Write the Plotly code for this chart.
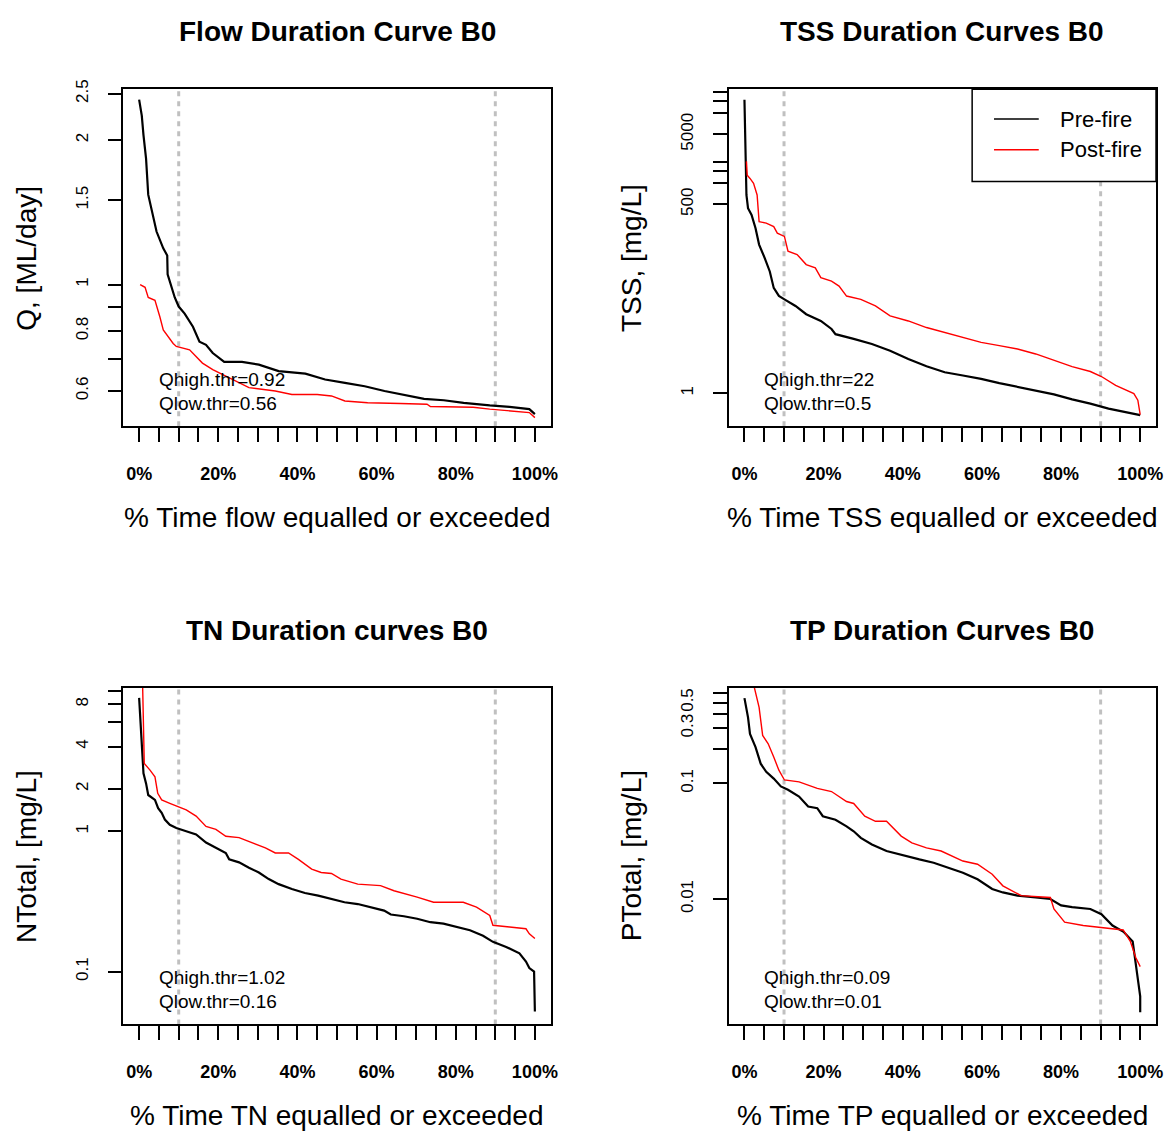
import plotly.graph_objects as go

# ---------------- data ----------------
flow_pre_pct = [0, 0.67, 1.1, 1.75, 2.3, 3.2, 4.4, 6.1, 7.1, 7.2, 8.2, 9.0, 10.0, 11.5, 13.6, 15.25,
                16.9, 18.6, 21.5, 26, 30.25, 35.25, 42, 47, 52, 57, 62, 67, 72, 77, 82, 88.6, 93.6, 98.6, 100]
flow_pre = [2.43, 2.25, 2.05, 1.83, 1.54, 1.42, 1.29, 1.19, 1.15, 1.05, 0.987, 0.94, 0.90, 0.87, 0.817, 0.76,
            0.749, 0.72, 0.69, 0.69, 0.681, 0.66, 0.652, 0.634, 0.624, 0.614, 0.60, 0.588, 0.578, 0.574, 0.567,
            0.56, 0.556, 0.55, 0.537]
flow_post_pct = [0.25, 1.5, 2.3, 4, 5.25, 6.1, 8.6, 9.4, 12.75, 14.4, 16, 18.6, 23.6, 27.75, 34.4, 38.6, 45,
                 48.6, 52, 57.75, 66, 72.75, 73.6, 84.4, 88.6, 93.6, 98.6, 100]
flow_post = [1.0, 0.987, 0.94, 0.927, 0.856, 0.804, 0.754, 0.743, 0.731, 0.708, 0.686, 0.665, 0.634, 0.61,
             0.60, 0.59, 0.59, 0.586, 0.572, 0.567, 0.565, 0.563, 0.557, 0.555, 0.55, 0.545, 0.541, 0.528]

tss_pre_pct = [0, 0.2, 0.5, 0.9, 1.8, 2.8, 3.7, 5.1, 6.4, 7.4, 8.7, 10.1, 12.9, 15.6, 19.3, 22, 23, 27.6, 32.2,
               36.8, 41.4, 46, 50.6, 55.2, 59.8, 64.4, 69, 73.6, 78.2, 82.8, 87.4, 92, 96.6, 100]
tss_pre = [15600, 2790, 680, 440, 353, 228, 133, 86, 55, 32, 24.6, 22, 17.7, 13.5, 10.8, 8.3, 7.0, 6.0, 5.06,
           4.07, 3.1, 2.44, 2.0, 1.8, 1.61, 1.40, 1.23, 1.10, 0.968, 0.82, 0.714, 0.606, 0.532, 0.488]
tss_post_pct = [0.5, 0.7, 1.4, 2.3, 3.2, 3.7, 5.5, 7.4, 8.3, 10.1, 11, 13.3, 15.6, 17.9, 19.3, 22, 23.9, 25.8,
                29.4, 33.1, 36.8, 41.4, 46, 50.6, 55.2, 59.8, 64.4, 69, 73.6, 78.2, 82.8, 87.4, 90.2, 93.8,
                98.4, 99.4, 100]
tss_post = [2050, 1300, 1170, 1000, 680, 283, 270, 240, 194, 174, 107, 96, 69, 62, 45, 40, 34, 24.5, 22, 17.7,
            12.8, 10.8, 8.7, 7.4, 6.4, 5.35, 4.8, 4.3, 3.65, 2.94, 2.41, 2.05, 1.74, 1.30, 0.99, 0.80, 0.498]

tn_pre_pct = [0, 0.25, 0.5, 0.7, 0.9, 1.1, 1.75, 2.3, 4, 4.8, 5.7, 6.5, 7.75, 9.4, 11.9, 14.4, 16.9, 19.4,
              21.9, 22.75, 25.25, 27.75, 30.25, 32.75, 35.25, 38.6, 41.9, 45.25, 48.6, 51.9, 55.25, 58.6,
              61.9, 63.6, 66.9, 70.25, 73.6, 76.9, 80.25, 83.6, 86.9, 89.4, 92.75, 96.1, 97.75, 98.6, 99.8, 100]
tn_pre = [8.9, 6.5, 5.1, 3.67, 2.88, 2.58, 2.19, 1.81, 1.67, 1.46, 1.35, 1.21, 1.11, 1.055, 1.0, 0.947, 0.83,
          0.76, 0.70, 0.63, 0.60, 0.55, 0.508, 0.456, 0.42, 0.388, 0.363, 0.348, 0.33, 0.312, 0.303, 0.288,
          0.272, 0.255, 0.248, 0.238, 0.225, 0.22, 0.208, 0.197, 0.18, 0.163, 0.150, 0.135, 0.118, 0.106,
          0.1, 0.052]
tn_post_pct = [0.8, 1.1, 1.3, 2.75, 4, 4.7, 5.7, 7.75, 9.8, 11.9, 14.4, 16.9, 19.4, 21.9, 25.25, 28.6, 31.9,
               34.4, 37.75, 40.25, 43.6, 46, 48.6, 51, 55.25, 61, 64.4, 70.25, 74.4, 81.9, 85.25, 88.6, 89.4,
               93.6, 97.75, 98.6, 100]
tn_post = [14, 5.8, 3.04, 2.72, 2.44, 1.86, 1.67, 1.58, 1.50, 1.42, 1.28, 1.08, 1.03, 0.92, 0.90, 0.83, 0.76,
           0.70, 0.70, 0.63, 0.537, 0.508, 0.50, 0.456, 0.42, 0.41, 0.377, 0.339, 0.312, 0.312, 0.288, 0.251,
           0.214, 0.208, 0.202, 0.186, 0.172]

tp_pre_pct = [0, 0.9, 1.4, 2.8, 4.1, 5.5, 7.4, 9.2, 11, 13.8, 16.1, 18.4, 19.8, 23, 25.8, 27.6, 29.4, 32.2,
              35.9, 40.5, 44.2, 47.8, 51.5, 55.2, 58.9, 62.6, 65.3, 69, 73.6, 77.3, 80, 82.8, 87.4, 90.2, 93,
              95.8, 98.1, 99.3, 100, 100]
tp_pre = [0.546, 0.372, 0.268, 0.206, 0.148, 0.126, 0.110, 0.094, 0.088, 0.077, 0.063, 0.061, 0.052, 0.0485,
          0.0425, 0.0385, 0.0338, 0.0296, 0.026, 0.0235, 0.022, 0.0206, 0.0187, 0.0169, 0.0148, 0.0122,
          0.0114, 0.0107, 0.0103, 0.01, 0.0088, 0.0085, 0.0082, 0.0074, 0.0059, 0.0052, 0.0043, 0.0021,
          0.00144, 0.00105]
tp_post_pct = [2.3, 3.7, 4.6, 6, 7.4, 8.7, 10.1, 13.8, 18.4, 22, 25.8, 27.6, 30.4, 33.1, 35.9, 39.6, 42.3, 46,
               49.7, 52.4, 55.2, 58.9, 62.6, 65.3, 69.9, 77.3, 78.2, 80.9, 85.6, 95.7, 97.5, 98.9, 100]
tp_post = [0.72, 0.454, 0.26, 0.22, 0.169, 0.13, 0.107, 0.103, 0.0906, 0.085, 0.0697, 0.067, 0.052, 0.047,
           0.047, 0.035, 0.0306, 0.0277, 0.026, 0.0235, 0.0213, 0.02, 0.0164, 0.013, 0.0107, 0.0103, 0.0082,
           0.0063, 0.0059, 0.0054, 0.0043, 0.0031, 0.0026]

titles = ["Flow Duration Curve B0", "TSS Duration Curves B0", "TN Duration curves B0", "TP Duration Curves B0"]
xlabels = ["% Time flow equalled or exceeded", "% Time TSS equalled or exceeded",
           "% Time TN equalled or exceeded", "% Time TP equalled or exceeded"]
ylabels = ["Q, [ML/day]", "TSS, [mg/L]", "NTotal, [mg/L]", "PTotal, [mg/L]"]
qhigh_labels = ["Qhigh.thr=0.92", "Qhigh.thr=22", "Qhigh.thr=1.02", "Qhigh.thr=0.09"]
qlow_labels = ["Qlow.thr=0.56", "Qlow.thr=0.5", "Qlow.thr=0.16", "Qlow.thr=0.01"]
series_names = ["Pre-fire", "Post-fire"]
threshold_pct = [10, 90]

x_tickvals = list(range(0, 101, 5))
x_ticktext = [f"{v}%" if v % 20 == 0 else "" for v in x_tickvals]

y_tickvals = [
    [0.6, 0.7, 0.8, 0.9, 1, 1.5, 2, 2.5],
    [1, 500, 1000, 1500, 2000, 5000, 10000, 15000, 20000],
    [0.1, 1, 2, 4, 6, 8, 10],
    [0.01, 0.1, 0.2, 0.3, 0.4, 0.5, 0.6],
]
y_ticktext = [
    ["0.6", "", "0.8", "", "1", "1.5", "2", "2.5"],
    ["1", "500", "", "", "", "5000", "", "", ""],
    ["0.1", "1", "2", "4", "", "8", ""],
    ["0.01", "0.1", "", "0.3", "", "0.5", ""],
]
y_ranges = [[-0.2955, 0.407], [-0.471, 4.34], [-1.376, 1.023], [-3.085, -0.171]]

pre_x = [flow_pre_pct, tss_pre_pct, tn_pre_pct, tp_pre_pct]
pre_y = [flow_pre, tss_pre, tn_pre, tp_pre]
post_x = [flow_post_pct, tss_post_pct, tn_post_pct, tp_post_pct]
post_y = [flow_post, tss_post, tn_post, tp_post]

# ---------------- layout helpers ----------------
# The page body has an 8px margin; the figure is sized so the page exactly fills the window.
PAGE_W, PAGE_H = 1176, 1142
OFF = 8
W, H = PAGE_W - 2 * OFF, PAGE_H - 2 * OFF
FONT = "Liberation Sans, Arial, sans-serif"
box_x = [(124, 554), (733, 1163), (124, 554), (733, 1163)]
box_y = [(80, 420), (80, 420), (683.5, 1023.5), (683.5, 1023.5)]


def px(x):
    return (x - OFF) / W


def py(y):
    return 1 - (y - OFF) / H


fig = go.Figure()
annotations = []
shapes = []

for i in range(4):
    n = i + 1
    xa = "x" if n == 1 else f"x{n}"
    ya = "y" if n == 1 else f"y{n}"
    fig.add_trace(go.Scatter(x=pre_x[i], y=pre_y[i], mode="lines", name=series_names[0],
                             line=dict(color="black", width=2.2), xaxis=xa, yaxis=ya, showlegend=False))
    fig.add_trace(go.Scatter(x=post_x[i], y=post_y[i], mode="lines", name=series_names[1],
                             line=dict(color="#ff0000", width=1.4), xaxis=xa, yaxis=ya, showlegend=False))

    x0, x1 = box_x[i]
    y0, y1 = box_y[i]
    axis_common = dict(showline=True, mirror=True, linecolor="black", linewidth=1.5,
                       ticks="outside", tickcolor="black", tickwidth=1.5, ticklen=14,
                       showgrid=False, zeroline=False)
    fig.update_layout(**{
        ("xaxis" if n == 1 else f"xaxis{n}"): dict(
            domain=[px(x0), px(x1)], anchor=ya, range=[-4, 104],
            tickvals=x_tickvals, ticktext=x_ticktext, tickangle=0,
            tickfont=dict(family=FONT, size=18, color="black", weight="bold"),
            ticklabelstandoff=16, **axis_common),
        ("yaxis" if n == 1 else f"yaxis{n}"): dict(
            domain=[py(y1), py(y0)], anchor=xa, type="log", range=y_ranges[i],
            tickvals=y_tickvals[i], ticktext=y_ticktext[i], tickangle=-90,
            tickfont=dict(family=FONT, size=17, color="black"),
            ticklabelstandoff=13, **axis_common),
    })

    # threshold dotted lines
    for t in threshold_pct:
        shapes.append(dict(type="line", xref=xa, yref=f"{ya} domain", x0=t, x1=t, y0=0, y1=1,
                           line=dict(color="#c0c0c0", width=3, dash="5px,5px"), layer="below"))

    cx = (x0 + x1) / 2
    annotations.append(dict(text=f"<b>{titles[i]}</b>", x=px(cx), y=py(y0 - 58), xref="paper", yref="paper",
                            showarrow=False, xanchor="center", yanchor="middle",
                            font=dict(family=FONT, size=28, color="black")))
    annotations.append(dict(text=xlabels[i], x=px(cx), y=py(y1 + 91.5), xref="paper", yref="paper",
                            showarrow=False, xanchor="center", yanchor="middle",
                            font=dict(family=FONT, size=28, color="black")))
    annotations.append(dict(text=ylabels[i], x=px(x0 - 97), y=py((y0 + y1) / 2), xref="paper", yref="paper",
                            showarrow=False, xanchor="center", yanchor="middle", textangle=-90,
                            font=dict(family=FONT, size=28, color="black")))
    annotations.append(dict(text=qhigh_labels[i], x=px(x0 + 34), y=py(y1 - 47), xref="paper", yref="paper",
                            showarrow=False, xanchor="left", yanchor="middle",
                            font=dict(family=FONT, size=19, color="black")))
    annotations.append(dict(text=qlow_labels[i], x=px(x0 + 34), y=py(y1 - 23), xref="paper", yref="paper",
                            showarrow=False, xanchor="left", yanchor="middle",
                            font=dict(family=FONT, size=19, color="black")))

# legend (top-right panel)
shapes.append(dict(type="rect", xref="paper", yref="paper", x0=px(978), x1=px(1163), y0=py(173), y1=py(80),
                   line=dict(color="black", width=1.5), fillcolor="white", layer="above"))
legend_colors = ["black", "#ff0000"]
legend_y = [110, 141]
for name, col, ly in zip(series_names, legend_colors, legend_y):
    shapes.append(dict(type="line", xref="paper", yref="paper", x0=px(1000), x1=px(1045), y0=py(ly), y1=py(ly),
                       line=dict(color=col, width=1.5), layer="above"))
    annotations.append(dict(text=name, x=px(1064), y=py(ly), xref="paper", yref="paper", showarrow=False,
                            xanchor="left", yanchor="middle", font=dict(family=FONT, size=22, color="black")))

fig.update_layout(width=W, height=H, margin=dict(l=0, r=0, t=0, b=0), paper_bgcolor="white",
                  plot_bgcolor="white", showlegend=False, annotations=annotations, shapes=shapes)

fig.write_html("out.html")
